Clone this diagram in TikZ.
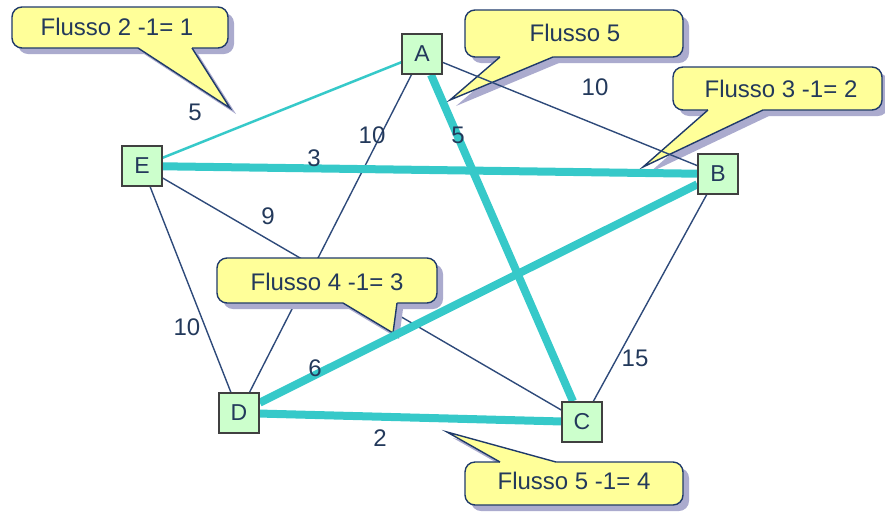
\documentclass[tikz,border=0pt]{standalone}
\usepackage{fontspec}
\setmainfont{Liberation Sans}
\definecolor{navy}{HTML}{23395B}
\definecolor{edgec}{HTML}{2E4A7A}
\definecolor{cyanc}{HTML}{36C9C9}
\definecolor{yell}{HTML}{FFFF99}
\definecolor{boxc}{HTML}{1F3A6A}
\definecolor{shad}{HTML}{ABABCE}
\definecolor{vfill}{HTML}{CCFFCC}
\pgfdeclarelayer{lA}
\pgfdeclarelayer{lB}
\pgfdeclarelayer{lC}
\pgfdeclarelayer{lD}
\pgfdeclarelayer{lE}
\pgfsetlayers{lA,lB,lC,lD,lE,main}
\newcommand\mycallout[7]{%
  \fill[shad,rounded corners=10pt] ([shift={(6,6)}]#1) rectangle ([shift={(6,6)}]#2);
  \fill[shad] ([shift={(6,6)}]#3) -- ([shift={(6,6)}]#4) -- ([shift={(6,6)}]#5) -- cycle;
  \filldraw[fill=yell,draw=boxc,line width=1.4pt,rounded corners=10pt] (#1) rectangle (#2);
  \fill[yell] (#6) -- (#3) -- (#4) -- (#5) -- (#7) -- cycle;
  \draw[boxc,line width=1.4pt,line join=miter] (#3) -- (#4) -- (#5);
}
\begin{document}
\begin{tikzpicture}[x=1pt,y=-1pt,
  vert/.style={draw=black!75,line width=1.5pt,fill=vfill,minimum size=40pt,inner sep=0pt,text=navy,font=\fontsize{23}{23}\selectfont},
  elab/.style={text=navy,font=\fontsize{24}{24}\selectfont,inner sep=0pt},
  ctext/.style={text=navy,font=\fontsize{24}{24}\selectfont,inner sep=0pt},
  plainedge/.style={draw=edgec,line width=1.4pt},
  lightedge/.style={draw=cyanc,line width=2.5pt},
  flowedge/.style={draw=cyanc,line width=8pt}]
\useasboundingbox (0,0) rectangle (885,515);

\node[vert] (A) at (422,54) {A};
\node[vert] (B) at (718,174) {B};
\node[vert] (C) at (582,422) {C};
\node[vert] (D) at (239,413) {D};
\node[vert] (E) at (142,166) {E};

\begin{pgfonlayer}{lA}
  \mycallout{12,7}{228,48}{138,48}{230,108}{192,48}{138,44}{192,44}
  \mycallout{465,10}{683,57}{500,57}{450,100}{553,57}{500,53}{553,53}
  \mycallout{673,67}{882,110}{708,110}{643,167}{763,110}{708,106}{763,106}
\end{pgfonlayer}
\node[ctext] (t1) at (117,27) {Flusso 2 -1= 1};
\node[ctext] (t2) at (575,33) {Flusso 5};
\node[ctext] (t3) at (781,89) {Flusso 3 -1= 2};

\begin{pgfonlayer}{lB}
  \draw[plainedge] (A) -- (B);
  \draw[plainedge] (A) -- (D);
  \draw[plainedge] (E) -- (C);
  \draw[plainedge] (E) -- (D);
  \draw[plainedge] (B) -- (C);
  \draw[lightedge] (A) -- (E);
\end{pgfonlayer}

\begin{pgfonlayer}{lC}
  \mycallout{217,258}{437,303}{343,303}{393,333}{397,303}{343,299}{397,299}
\end{pgfonlayer}
\node[ctext] (t4) at (327,282) {Flusso 4 -1= 3};

\begin{pgfonlayer}{lD}
  \draw[flowedge] (A) -- (C);
  \draw[flowedge] (E) -- (B);
  \draw[flowedge] (D) -- (B);
  \draw[flowedge] (D) -- (C);
\end{pgfonlayer}

\begin{pgfonlayer}{lE}
  \mycallout{465,462}{683,505}{500,462}{447,432}{556,462}{500,466}{556,466}
\end{pgfonlayer}
\node[ctext] (t5) at (574,481) {Flusso 5 -1= 4};

\node[elab] (lAE) at (195,112) {5};
\node[elab] (lAD) at (372,135) {10};
\node[elab] (lAC) at (458,135) {5};
\node[elab] (lAB) at (595,87) {10};
\node[elab] (lEB) at (314,158) {3};
\node[elab] (lEC) at (268,216) {9};
\node[elab] (lED) at (187,327) {10};
\node[elab] (lDB) at (315,368) {6};
\node[elab] (lDC) at (380,438) {2};
\node[elab] (lBC) at (635,358) {15};
\end{tikzpicture}
\end{document}
